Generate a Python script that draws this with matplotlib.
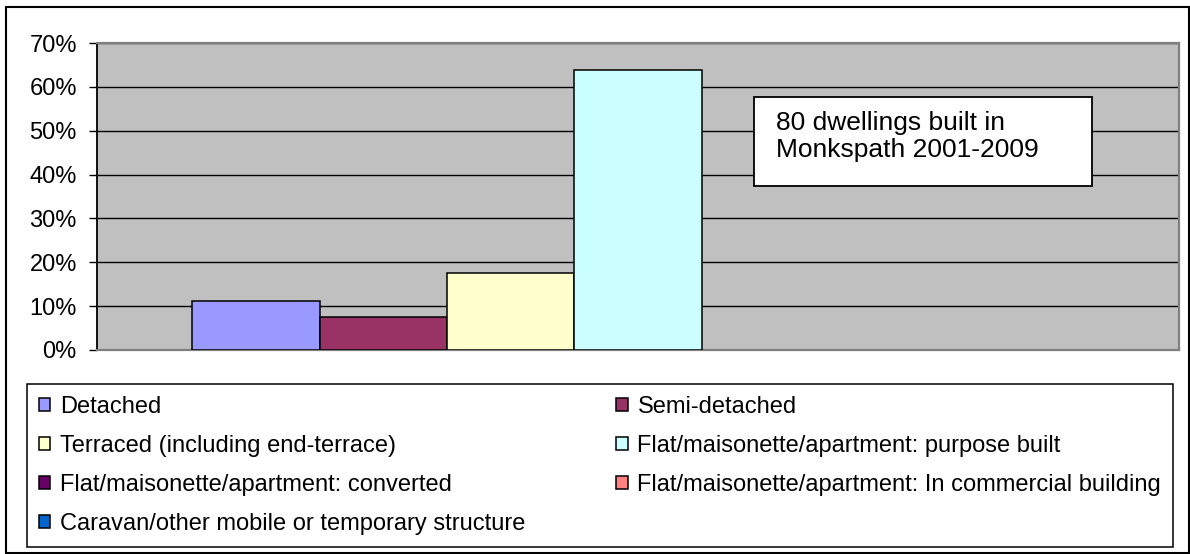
import matplotlib
matplotlib.use("Agg")
import matplotlib.pyplot as plt
from matplotlib.patches import Rectangle
from matplotlib.ticker import PercentFormatter

plt.rcParams['font.family'] = ['Liberation Sans', 'DejaVu Sans']

series_labels = [
    "Detached",
    "Semi-detached",
    "Terraced (including end-terrace)",
    "Flat/maisonette/apartment: purpose built",
    "Flat/maisonette/apartment: converted",
    "Flat/maisonette/apartment: In commercial building",
    "Caravan/other mobile or temporary structure",
]
series_values = [0.1125, 0.075, 0.175, 0.6375, 0.0, 0.0, 0.0]
series_colors = ["#9999FF", "#993366", "#FFFFCC", "#CCFFFF", "#660066", "#FF8080", "#0066CC"]
y_ticks = [0.0, 0.1, 0.2, 0.3, 0.4, 0.5, 0.6, 0.7]
note_text = "80 dwellings built in\nMonkspath 2001-2009"

W, H = 1190, 554
fig = plt.figure(figsize=(W / 100, H / 100), dpi=100)
fig.patch.set_facecolor("white")

# outer chart border
fig.add_artist(Rectangle((6 / W, 1 - 553 / H), 1183 / W, 546 / H, transform=fig.transFigure,
                         facecolor="none", edgecolor="black", lw=1.5, zorder=0))

ax = fig.add_axes([97 / W, 1 - 350 / H, 1082 / W, 307 / H])
ax.set_facecolor("#C0C0C0")

n = len(series_values)
bw = 1.0 / (n + 1.5)
handles = []
for i, (lab, val, col) in enumerate(zip(series_labels, series_values, series_colors)):
    # empty series sit below the grey axis border so their flat outline is hidden
    z = 3 if val > 0 else 2
    b = ax.bar((i - (n - 1) / 2) * bw, val, width=bw, color=col, edgecolor="black",
               linewidth=1.1, label=lab, zorder=z)
    handles.append(b)

ax.set_xlim(-0.5, 0.5)
ax.set_ylim(0, 0.7)
ax.set_yticks(y_ticks)
ax.yaxis.set_major_formatter(PercentFormatter(1.0, decimals=0))
ax.set_xticks([])
ax.tick_params(axis="y", direction="out", length=6, width=1.0, pad=8.5,
               labelsize=17, colors="black")
ax.yaxis.grid(True, color="black", linewidth=1.0, zorder=1)
ax.set_axisbelow(True)

ax.spines["left"].set_color("black")
ax.spines["left"].set_linewidth(1.3)
for s in ("top", "right", "bottom"):
    ax.spines[s].set_color("#808080")
    ax.spines[s].set_linewidth(1.6)

# annotation box
fig.add_artist(Rectangle((754 / W, 1 - 186 / H), 338 / W, 89 / H, transform=fig.transFigure,
                         facecolor="white", edgecolor="black", lw=1.3, zorder=5))
fig.text(776 / W, 1 - 111 / H, note_text, ha="left", va="top", fontsize=19,
         linespacing=1.15, zorder=6)

# legend: Excel fills row-wise; matplotlib fills column-wise
order = [0, 2, 4, 6, 1, 3, 5]
leg = fig.legend([handles[k] for k in order], [series_labels[k] for k in order],
                 loc="upper left", bbox_to_anchor=(27 / W, 1 - 544 / H, 1146 / W, 160 / H),
                 bbox_transform=fig.transFigure, mode="expand", ncol=2, fontsize=17,
                 frameon=True, fancybox=False, shadow=False, framealpha=1,
                 borderpad=0.5, labelspacing=0.72, handlelength=0.47, handleheight=0.47,
                 handletextpad=0.42, borderaxespad=0, columnspacing=1.0)
leg.get_frame().set_edgecolor("black")
leg.get_frame().set_linewidth(1.1)

fig.savefig("out.png", dpi=100, facecolor="white")
